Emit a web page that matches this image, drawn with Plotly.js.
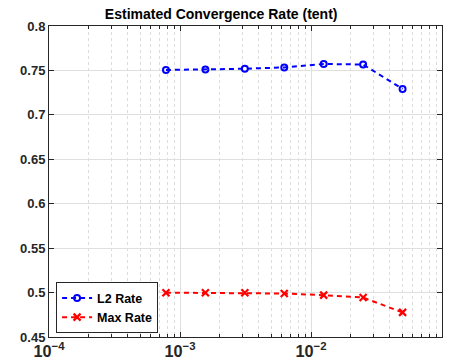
<!DOCTYPE html>
<html><head><meta charset="utf-8">
<script src="https://cdn.plot.ly/plotly-3.0.1.min.js"></script>
<style>html,body{margin:0;padding:0;background:#fff}#c{width:456px;height:357px}</style>
</head><body><div id="c"></div>
<script>
const h = [0.00078125, 0.0015625, 0.003125, 0.00625, 0.0125, 0.025, 0.05];
const l2Rate = [0.7505, 0.7511, 0.7519, 0.7534, 0.7573, 0.7566, 0.7292];
const maxRate = [0.4999, 0.4997, 0.4997, 0.4989, 0.4971, 0.4944, 0.4777];
const seriesNames = ['L2 Rate', 'Max Rate'];

const F = 'Liberation Sans, Arial, sans-serif';
const traces = [
  {x: h, y: l2Rate, name: seriesNames[0], mode: 'lines+markers',
   line: {color: '#0000ff', width: 2, dash: '5px,4px'},
   marker: {symbol: 'circle-open', size: 6, color: '#0000ff', line: {width: 2, color: '#0000ff'}}},
  {x: h, y: maxRate, name: seriesNames[1], mode: 'lines+markers',
   line: {color: '#ff0000', width: 2, dash: '5px,4px'},
   marker: {symbol: 'x-thin', size: 7, color: '#ff0000', line: {width: 2.2, color: '#ff0000'}}}
];
const layout = {
  width: 456, height: 357,
  margin: {l: 49, r: 14, t: 26, b: 20, pad: 0},
  paper_bgcolor: '#fff', plot_bgcolor: '#fff',
  font: {family: F, size: 13, color: '#262626', weight: 'bold'},
  title: {text: 'Estimated Convergence Rate (tent)', x: 0.485, xanchor: 'center', y: 0.975, yanchor: 'top',
          font: {family: F, size: 14, color: '#000', weight: 'bold'}},
  showlegend: true,
  legend: {x: 0.018, y: 0.012, xanchor: 'left', yanchor: 'bottom', bgcolor: '#fff',
           bordercolor: '#262626', borderwidth: 1, font: {family: F, size: 12.5, color: '#000', weight: 'bold'},
           tracegroupgap: 0, itemwidth: 30},
  xaxis: {type: 'log', range: [-4, -1], dtick: 1, exponentformat: 'power',
          showgrid: true, gridcolor: '#dfdfdf', gridwidth: 1,
          ticks: 'inside', ticklen: 5, tickcolor: '#262626',
          showline: true, linecolor: '#262626', linewidth: 1, mirror: 'ticks',
          zeroline: false, tickfont: {family: F, size: 13, color: '#262626', weight: 'bold'},
          minor: {dtick: 'D1', showgrid: true, gridcolor: '#dcdcdc', griddash: 'dot', gridwidth: 1, ticks: 'inside', ticklen: 3, tickcolor: '#262626'}},
  yaxis: {range: [0.45, 0.8], dtick: 0.05, tick0: 0.45,
          showgrid: true, gridcolor: '#dfdfdf', gridwidth: 1,
          ticks: 'inside', ticklen: 5, tickcolor: '#262626',
          showline: true, linecolor: '#262626', linewidth: 1, mirror: 'ticks',
          zeroline: false, tickfont: {family: F, size: 13, color: '#262626', weight: 'bold'}}
};
Plotly.newPlot('c', traces, layout, {displayModeBar: false, staticPlot: true});
</script></body></html>
